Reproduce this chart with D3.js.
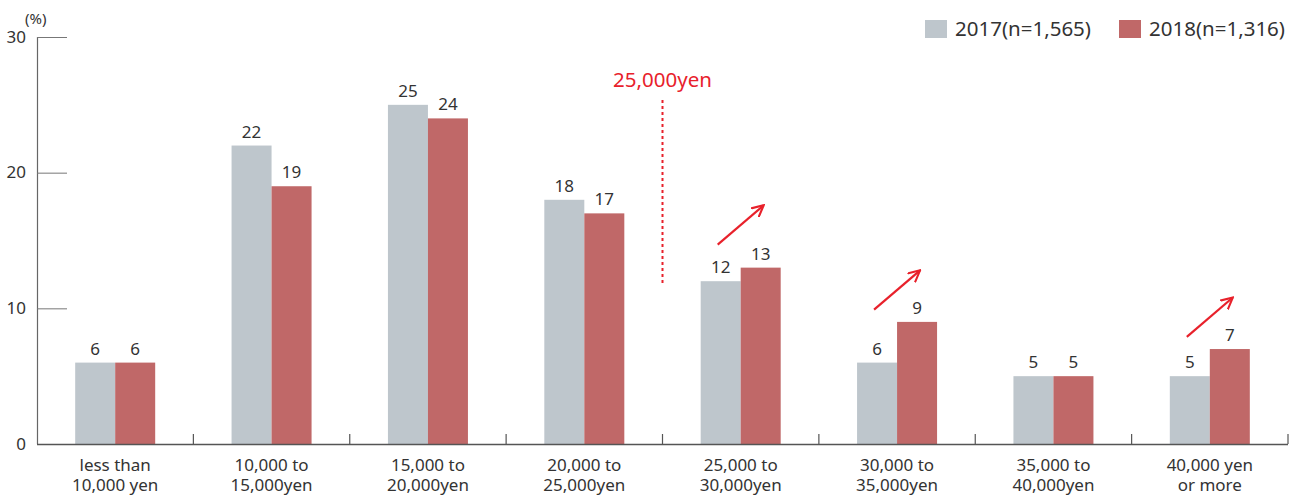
<!DOCTYPE html>
<html>
<head>
<meta charset="utf-8">
<script src="https://cdn.jsdelivr.net/npm/d3@7"></script>
<style>
  body { margin: 0; background: #fff; }
  svg text { font-family: "Noto Sans", "DejaVu Sans", sans-serif; fill: #333; }
</style>
</head>
<body>
<div id="chart"></div>
<script>
///////////////////// Data ////////////////////////
var categories = [
  ["less than", "10,000 yen"],
  ["10,000 to", "15,000yen"],
  ["15,000 to", "20,000yen"],
  ["20,000 to", "25,000yen"],
  ["25,000 to", "30,000yen"],
  ["30,000 to", "35,000yen"],
  ["35,000 to", "40,000yen"],
  ["40,000 yen", "or more"]
];
var series = ["2017(n=1,565)", "2018(n=1,316)"];
var values2017 = [6, 22, 25, 18, 12, 6, 5, 5];
var values2018 = [6, 19, 24, 17, 13, 9, 5, 7];
var yTicks = [0, 10, 20, 30];
// up-arrows drawn over the groups that grew (index, start value on y scale)
var arrowGroups = [4, 5, 7];
var arrowStart = [14.7, 9.9, 7.9];
var markerLabel = "25,000yen";
////////////////////////////////////////////////////

var width = 1303, height = 495;
var mLeft = 37, mRight = 1288, mTop = 37, mBottom = 444;
var colors = ["#bec6cc", "#c06868"];
var red = "#e8212b";

var svg = d3.select("#chart").append("svg")
  .attr("width", width)
  .attr("height", height);

var x = d3.scaleBand()
  .domain(d3.range(categories.length))
  .range([mLeft, mRight])
  .paddingInner(0).paddingOuter(0);

var y = d3.scaleLinear().domain([0, 30]).range([mBottom, mTop]);

var barW = 40;

// y axis line + tick stubs
svg.append("line")
  .attr("x1", mLeft + 0.5).attr("x2", mLeft + 0.5)
  .attr("y1", y(30)).attr("y2", y(0))
  .attr("stroke", "#666").attr("stroke-width", 1.2);

yTicks.forEach(function (t) {
  if (t > 0) {
    svg.append("line")
      .attr("x1", mLeft).attr("x2", mLeft + 30)
      .attr("y1", y(t) + 0.5).attr("y2", y(t) + 0.5)
      .attr("stroke", "#777").attr("stroke-width", 1);
  }
  svg.append("text")
    .attr("x", 26).attr("y", y(t) + 1)
    .attr("text-anchor", "end")
    .attr("dominant-baseline", "middle")
    .style("font-size", "17px")
    .text(t);
});

svg.append("text")
  .attr("x", 25).attr("y", 24)
  .style("font-size", "15px")
  .text("(%)");

// bars and value labels
[values2017, values2018].forEach(function (vals, s) {
  svg.selectAll("rect.s" + s)
    .data(vals)
    .enter().append("rect")
    .attr("class", "s" + s)
    .attr("x", function (d, i) { return x(i) + x.bandwidth() / 2 - barW + s * barW; })
    .attr("y", function (d) { return y(d); })
    .attr("width", barW)
    .attr("height", function (d) { return y(0) - y(d); })
    .attr("fill", colors[s]);

  svg.selectAll("text.v" + s)
    .data(vals)
    .enter().append("text")
    .attr("class", "v" + s)
    .attr("x", function (d, i) { return x(i) + x.bandwidth() / 2 - barW / 2 + s * barW; })
    .attr("y", function (d) { return y(d) - 8; })
    .attr("text-anchor", "middle")
    .style("font-size", "17px")
    .text(function (d) { return d; });
});

// x axis line and boundary ticks
svg.append("line")
  .attr("x1", mLeft).attr("x2", mRight)
  .attr("y1", y(0) + 0.5).attr("y2", y(0) + 0.5)
  .attr("stroke", "#555").attr("stroke-width", 1.3);

d3.range(1, categories.length + 1).forEach(function (i) {
  var bx = x(i - 1) + x.bandwidth();
  svg.append("line")
    .attr("x1", bx).attr("x2", bx)
    .attr("y1", y(0) - 10).attr("y2", y(0))
    .attr("stroke", "#555").attr("stroke-width", 1.2);
});

// category labels, two lines each
categories.forEach(function (c, i) {
  c.forEach(function (line, k) {
    svg.append("text")
      .attr("x", x(i) + x.bandwidth() / 2)
      .attr("y", 471 + k * 20)
      .attr("text-anchor", "middle")
      .style("font-size", "17px")
      .text(line);
  });
});

// legend
var legX = [925, 1119];
series.forEach(function (s, i) {
  svg.append("rect")
    .attr("x", legX[i]).attr("y", 20)
    .attr("width", 22).attr("height", 18)
    .attr("fill", colors[i]);
  svg.append("text")
    .attr("x", legX[i] + 30).attr("y", 36)
    .style("font-size", "20.5px")
    .text(s);
});

// 25,000 yen marker
var markX = x(3) + x.bandwidth();
svg.append("line")
  .attr("x1", markX).attr("x2", markX)
  .attr("y1", 100).attr("y2", 283)
  .attr("stroke", red)
  .attr("stroke-width", 2)
  .attr("stroke-dasharray", "3,3");
svg.append("text")
  .attr("x", markX).attr("y", 87)
  .attr("text-anchor", "middle")
  .style("font-size", "20.5px")
  .style("fill", red)
  .text(markerLabel);

// arrows
svg.append("defs").append("marker")
  .attr("id", "head")
  .attr("viewBox", "0 0 10 10")
  .attr("refX", 9).attr("refY", 5)
  .attr("markerWidth", 13).attr("markerHeight", 13)
  .attr("markerUnits", "userSpaceOnUse")
  .attr("orient", "auto")
  .append("path")
  .attr("d", "M0,0.5 L9,5 L0,9.5")
  .attr("fill", "none")
  .attr("stroke", red)
  .attr("stroke-width", 1.6)
  .attr("stroke-linejoin", "miter");

arrowGroups.forEach(function (g, i) {
  var cx = x(g) + x.bandwidth() / 2;
  svg.append("line")
    .attr("x1", cx - 23).attr("y1", y(arrowStart[i]))
    .attr("x2", cx + 23).attr("y2", y(arrowStart[i] + 2.9))
    .attr("stroke", red)
    .attr("stroke-width", 2.2)
    .attr("marker-end", "url(#head)");
});
</script>
</body>
</html>
